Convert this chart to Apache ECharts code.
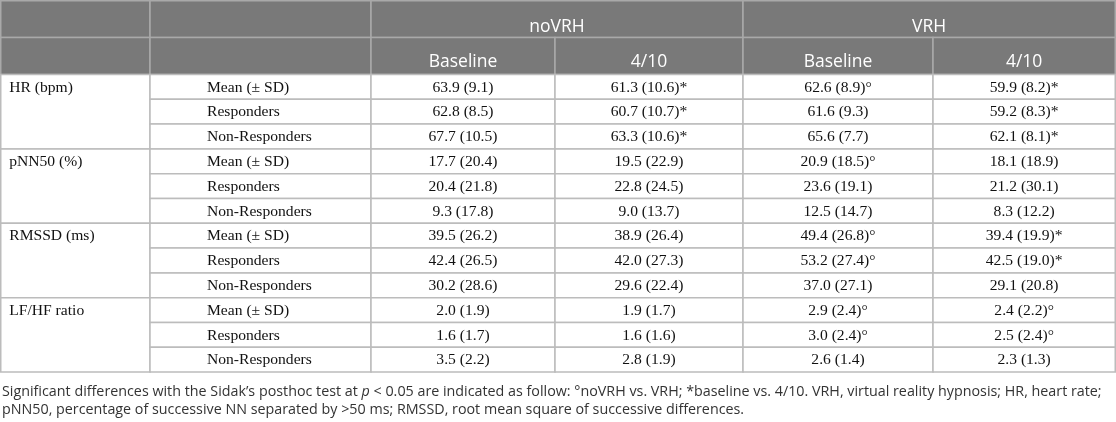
<!DOCTYPE html>
<html lang="en">
  <head>
    <meta charset="utf-8">
    <title>HRV table</title>
    <script src="https://cdn.jsdelivr.net/npm/echarts/dist/echarts.min.js"></script>
    <style>
      html, body { margin: 0; padding: 0; background: #fff; }
      #chart { width: 1116px; height: 422px; }
    </style>
  </head>
  <body>
    <div id="chart"></div>
    <script>
      // table content
      var groups = ['noVRH', 'VRH'];
      var phases = ['Baseline', '4/10'];
      var measures = ['HR (bpm)', 'pNN50 (%)', 'RMSSD (ms)', 'LF/HF ratio'];
      var subgroups = ['Mean (\u00b1 SD)', 'Responders', 'Non-Responders'];

      var noVRH_baseline = ['63.9 (9.1)', '62.8 (8.5)', '67.7 (10.5)',
                            '17.7 (20.4)', '20.4 (21.8)', '9.3 (17.8)',
                            '39.5 (26.2)', '42.4 (26.5)', '30.2 (28.6)',
                            '2.0 (1.9)', '1.6 (1.7)', '3.5 (2.2)'];
      var noVRH_4_10 = ['61.3 (10.6)*', '60.7 (10.7)*', '63.3 (10.6)*',
                        '19.5 (22.9)', '22.8 (24.5)', '9.0 (13.7)',
                        '38.9 (26.4)', '42.0 (27.3)', '29.6 (22.4)',
                        '1.9 (1.7)', '1.6 (1.6)', '2.8 (1.9)'];
      var VRH_baseline = ['62.6 (8.9)\u00b0', '61.6 (9.3)', '65.6 (7.7)',
                          '20.9 (18.5)\u00b0', '23.6 (19.1)', '12.5 (14.7)',
                          '49.4 (26.8)\u00b0', '53.2 (27.4)\u00b0', '37.0 (27.1)',
                          '2.9 (2.4)\u00b0', '3.0 (2.4)\u00b0', '2.6 (1.4)'];
      var VRH_4_10 = ['59.9 (8.2)*', '59.2 (8.3)*', '62.1 (8.1)*',
                      '18.1 (18.9)', '21.2 (30.1)', '8.3 (12.2)',
                      '39.4 (19.9)*', '42.5 (19.0)*', '29.1 (20.8)',
                      '2.4 (2.2)\u00b0', '2.5 (2.4)\u00b0', '2.3 (1.3)'];

      var footnote = [
        'Significant differences with the Sidak\u2019s posthoc test at {i|p} < 0.05 are indicated as follow: \u00b0noVRH vs. VRH; *baseline vs. 4/10. VRH, virtual reality hypnosis; HR, heart rate;',
        'pNN50, percentage of successive NN separated by >50 ms; RMSSD, root mean square of successive differences.'
      ];

      // layout (pixels in the hidden value axes)
      var colEdges = [0.75, 150, 371, 555, 743, 933, 1115.25];
      var rowEdges = [0.75, 37.5, 74.5];
      for (var k = 1; k <= 12; k++) {
        rowEdges.push(74.5 + k * 24.8);
      }

      var valueCols = [noVRH_baseline, noVRH_4_10, VRH_baseline, VRH_4_10];

      function build_cells(){
        var cells = [];
        cells.push({c: [0, 1, 0, 1], text: '', kind: 'head'});
        cells.push({c: [1, 2, 0, 1], text: '', kind: 'head'});
        for (var g = 0; g < groups.length; g++) {
          cells.push({c: [2 + g * 2, 4 + g * 2, 0, 1], text: groups[g], kind: 'head'});
        }
        cells.push({c: [0, 1, 1, 2], text: '', kind: 'head'});
        cells.push({c: [1, 2, 1, 2], text: '', kind: 'head'});
        for (var g = 0; g < groups.length; g++) {
          for (var p = 0; p < phases.length; p++) {
            var col = 2 + g * 2 + p;
            cells.push({c: [col, col + 1, 1, 2], text: phases[p], kind: 'head'});
          }
        }
        for (var m = 0; m < measures.length; m++) {
          var r0 = 2 + m * 3;
          cells.push({c: [0, 1, r0, r0 + 3], text: measures[m], kind: 'label'});
          for (var s = 0; s < subgroups.length; s++) {
            var r = r0 + s;
            cells.push({c: [1, 2, r, r + 1], text: subgroups[s], kind: 'sub'});
            for (var v = 0; v < valueCols.length; v++) {
              cells.push({c: [2 + v, 3 + v, r, r + 1], text: valueCols[v][m * 3 + s], kind: 'val'});
            }
          }
        }
        return cells;
      }

      var cells = build_cells();

      function render_cell(params, api){
        var cell = cells[params.dataIndex];
        var p0 = api.coord([colEdges[api.value(0)], rowEdges[api.value(2)]]);
        var p1 = api.coord([colEdges[api.value(1)], rowEdges[api.value(3)]]);
        var head = cell.kind == 'head';
        var rect = {
          type: 'rect',
          shape: {x: p0[0], y: p0[1], width: p1[0] - p0[0], height: p1[1] - p0[1]},
          style: {fill: head ? '#797979' : '#ffffff', stroke: head ? '#a9a9a9' : '#bcbcbc', lineWidth: 1.5}
        };
        var tx, ty, align;
        if (head) {
          tx = (p0[0] + p1[0]) / 2;
          ty = p1[1] - (api.value(2) == 0 ? 10.5 : 12);
          align = 'center';
        } else if (cell.kind == 'label') {
          tx = p0[0] + 8.5;
          ty = p0[1] + 13;
          align = 'left';
        } else if (cell.kind == 'sub') {
          tx = p0[0] + 57;
          ty = p0[1] + 13;
          align = 'left';
        } else {
          tx = (p0[0] + p1[0]) / 2;
          ty = p0[1] + 13;
          align = 'center';
        }
        var text = {
          type: 'text',
          style: {
            x: tx, y: ty, text: cell.text, align: align, verticalAlign: 'middle',
            fill: head ? '#ffffff' : '#111111',
            fontFamily: head ? '"Open Sans"' : '"Liberation Serif"',
            fontSize: head ? 17.5 : 15.6
          },
          z2: 10
        };
        return {type: 'group', children: [rect, text]};
      }

      var myChart = echarts.init(document.getElementById('chart'), null, {renderer: 'canvas'});
      myChart.setOption({
        animation: false,
        grid: {left: 0, top: 0, width: 1116, height: 422},
        xAxis: {type: 'value', min: 0, max: 1116, show: false},
        yAxis: {type: 'value', min: 0, max: 422, inverse: true, show: false},
        series: [{
          type: 'custom',
          renderItem: render_cell,
          data: cells.map(function(c){ return c.c; }),
          silent: true
        }],
        graphic: footnote.map(function(line, i){
          return {
            type: 'text',
            left: 2,
            top: 385 + i * 18,
            style: {
              text: line,
              fill: '#333333',
              fontFamily: '"Open Sans"',
              fontSize: 14.3,
              rich: {
                i: {fontStyle: 'italic', fontFamily: '"Open Sans"', fontSize: 14.3, fill: '#333333'}
              }
            }
          };
        })
      });
    </script>
  </body>
</html>
